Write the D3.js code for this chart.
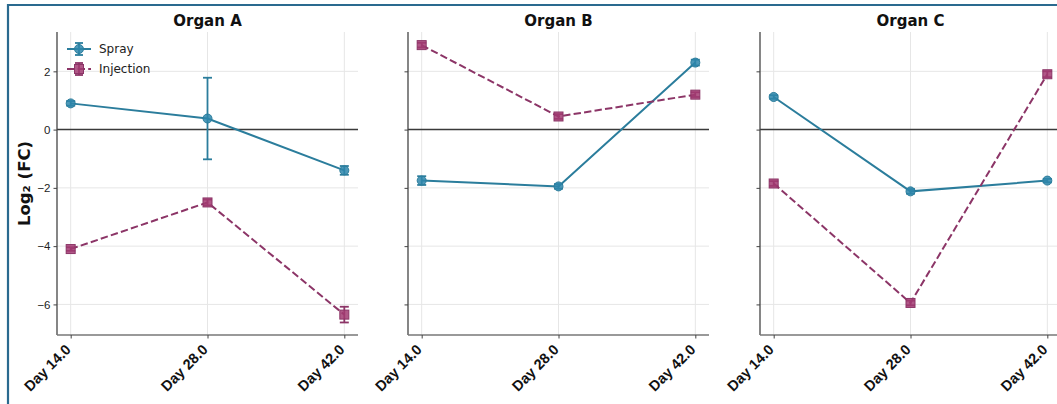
<!DOCTYPE html>
<html>
<head>
<meta charset="utf-8">
<script src="https://cdn.jsdelivr.net/npm/d3@7"></script>
<style>
  body { margin: 0; background: #fff; }
  svg { font-family: "DejaVu Sans", sans-serif; }
</style>
</head>
<body>
<svg width="1057" height="404"></svg>
<script>
// data
var days = ["Day 14.0", "Day 28.0", "Day 42.0"];
var organs = ["Organ A", "Organ B", "Organ C"];
var yTicks = [-6, -4, -2, 0, 2];

var sprayMean = [
  [0.9, 0.38, -1.4],
  [-1.75, -1.95, 2.3],
  [1.12, -2.12, -1.75]
];
var sprayErr = [
  [0.08, 1.4, 0.15],
  [0.15, 0.08, 0.1],
  [0.06, 0.08, 0.06]
];
var injMean = [
  [-4.1, -2.5, -6.35],
  [2.9, 0.45, 1.2],
  [-1.85, -5.95, 1.9]
];
var injErr = [
  [0.06, 0.1, 0.27],
  [0.08, 0.08, 0.08],
  [0.08, 0.08, 0.1]
];

var sprayCol = "#2b7d9c", sprayFill = "#2E86AB";
var injCol = "#8c3567", injFill = "#A23B72";
var dashPat = "7.4,3.2";

var svg = d3.select("svg");

// outer frame (cropped at right/bottom)
svg.append("path")
  .attr("d", "M8,404 L8,5 L1057,5")
  .attr("fill", "none")
  .attr("stroke", "#2a6a8f")
  .attr("stroke-width", 2.2);

var panelLeft = [57, 408, 760],
    panelW = 301,
    plotTop = 32, plotBottom = 335;

var y = d3.scaleLinear().domain([-7.05, 3.35]).range([plotBottom, plotTop]);

organs.forEach(function(name, p) {
  var x0 = panelLeft[p];
  // matplotlib-like 5% margins
  var pad = panelW * 0.05 / 1.1;
  var x = d3.scalePoint().domain(days).range([x0 + pad, x0 + panelW - pad]);

  var g = svg.append("g");

  // grid
  g.selectAll(".hg").data(yTicks).enter().append("line")
    .attr("x1", x0).attr("x2", x0 + panelW)
    .attr("y1", function(d) { return y(d); }).attr("y2", function(d) { return y(d); })
    .attr("stroke", "#e6e6e6").attr("stroke-width", 1);
  g.selectAll(".vg").data(days).enter().append("line")
    .attr("x1", function(d) { return x(d); }).attr("x2", function(d) { return x(d); })
    .attr("y1", plotTop).attr("y2", plotBottom)
    .attr("stroke", "#e6e6e6").attr("stroke-width", 1);

  // zero line
  g.append("line")
    .attr("x1", x0).attr("x2", x0 + panelW)
    .attr("y1", y(0)).attr("y2", y(0))
    .attr("stroke", "#3a3a3a").attr("stroke-width", 1.5);

  // axes
  var ya = d3.axisLeft(y).tickValues(yTicks).tickSize(3.5).tickPadding(3)
    .tickFormat(p === 0 ? function(d) { return d < 0 ? "\u2212" + Math.abs(d) : d; } : "");
  var yg = g.append("g").attr("transform", "translate(" + x0 + ",0)").call(ya);
  yg.select(".domain").attr("stroke", "#444").attr("stroke-width", 1.3).attr("d", "M0," + plotTop + "V" + plotBottom);
  yg.selectAll(".tick line").attr("stroke", "#444");
  yg.selectAll("text").attr("font-size", 11.5).attr("fill", "#222");

  var xa = d3.axisBottom(x).tickSize(3.5).tickPadding(3);
  var xg = g.append("g").attr("transform", "translate(0," + plotBottom + ")").call(xa);
  xg.select(".domain").attr("stroke", "#777").attr("stroke-width", 1.3).attr("d", "M" + x0 + ",0H" + (x0 + panelW));
  xg.selectAll(".tick line").attr("stroke", "#444");
  xg.selectAll("text")
    .attr("font-size", 14.5).attr("font-weight", "bold").attr("fill", "#111")
    .attr("text-anchor", "end")
    .attr("dy", "0.35em")
    .attr("transform", "translate(-3,12) rotate(-45)")
    .attr("x", 0).attr("y", 0);

  // title
  g.append("text")
    .attr("x", x0 + panelW / 2).attr("y", 26)
    .attr("text-anchor", "middle")
    .attr("font-size", 15).attr("font-weight", "bold").attr("fill", "#111")
    .text(name);

  // series
  var series = [
    { mean: sprayMean[p], err: sprayErr[p], col: sprayCol, fill: sprayFill, dash: null, shape: "circle" },
    { mean: injMean[p], err: injErr[p], col: injCol, fill: injFill, dash: dashPat, shape: "square" }
  ];
  series.forEach(function(s) {
    var pts = days.map(function(d, i) { return { d: d, v: s.mean[i], e: s.err[i] }; });
    var line = d3.line().x(function(d) { return x(d.d); }).y(function(d) { return y(d.v); });
    g.append("path").datum(pts)
      .attr("d", line).attr("fill", "none")
      .attr("stroke", s.col).attr("stroke-width", 2)
      .attr("stroke-dasharray", s.dash);
    // error bars
    var eb = g.selectAll(null).data(pts).enter().append("g");
    eb.append("line")
      .attr("x1", function(d) { return x(d.d); }).attr("x2", function(d) { return x(d.d); })
      .attr("y1", function(d) { return y(d.v - d.e); }).attr("y2", function(d) { return y(d.v + d.e); })
      .attr("stroke", s.col).attr("stroke-width", 1.8);
    [-1, 1].forEach(function(sg) {
      eb.append("line")
        .attr("x1", function(d) { return x(d.d) - 4.5; }).attr("x2", function(d) { return x(d.d) + 4.5; })
        .attr("y1", function(d) { return y(d.v + sg * d.e); }).attr("y2", function(d) { return y(d.v + sg * d.e); })
        .attr("stroke", s.col).attr("stroke-width", 1.8);
    });
    if (s.shape === "circle") {
      g.selectAll(null).data(pts).enter().append("circle")
        .attr("cx", function(d) { return x(d.d); }).attr("cy", function(d) { return y(d.v); })
        .attr("r", 4.5).attr("fill", s.fill).attr("fill-opacity", 0.85)
        .attr("stroke", s.col).attr("stroke-width", 1);
    } else {
      g.selectAll(null).data(pts).enter().append("rect")
        .attr("x", function(d) { return x(d.d) - 4.5; }).attr("y", function(d) { return y(d.v) - 4.5; })
        .attr("width", 9).attr("height", 9).attr("fill", s.fill).attr("fill-opacity", 0.85)
        .attr("stroke", s.col).attr("stroke-width", 1);
    }
  });
});

// y label
svg.append("text")
  .attr("transform", "translate(24," + ((plotTop + plotBottom) / 2) + ") rotate(-90)")
  .attr("text-anchor", "middle")
  .attr("dy", "0.35em")
  .attr("font-size", 16.5).attr("font-weight", "bold").attr("fill", "#111")
  .text("Log\u2082 (FC)");

// legend
var legendData = [
  ["Spray", sprayCol, sprayFill, null, "circle"],
  ["Injection", injCol, injFill, dashPat, "square"]
];
var lg = svg.append("g");
legendData.forEach(function(d, i) {
  var ly = 49 + i * 20, lx = 67;
  lg.append("line").attr("x1", lx).attr("x2", lx + 24).attr("y1", ly).attr("y2", ly)
    .attr("stroke", d[1]).attr("stroke-width", 2).attr("stroke-dasharray", d[3]);
  lg.append("line").attr("x1", lx + 12).attr("x2", lx + 12).attr("y1", ly - 6).attr("y2", ly + 6)
    .attr("stroke", d[1]).attr("stroke-width", 1.8);
  [-6, 6].forEach(function(o) {
    lg.append("line").attr("x1", lx + 8).attr("x2", lx + 16).attr("y1", ly + o).attr("y2", ly + o)
      .attr("stroke", d[1]).attr("stroke-width", 1.8);
  });
  if (d[4] === "circle") {
    lg.append("circle").attr("cx", lx + 12).attr("cy", ly).attr("r", 4.5)
      .attr("fill", d[2]).attr("fill-opacity", 0.85).attr("stroke", d[1]);
  } else {
    lg.append("rect").attr("x", lx + 7.5).attr("y", ly - 4.5).attr("width", 9).attr("height", 9)
      .attr("fill", d[2]).attr("fill-opacity", 0.85).attr("stroke", d[1]);
  }
  lg.append("text").attr("x", lx + 32).attr("y", ly).attr("dy", "0.35em")
    .attr("font-size", 12).attr("fill", "#222").text(d[0]);
});
</script>
</body>
</html>
